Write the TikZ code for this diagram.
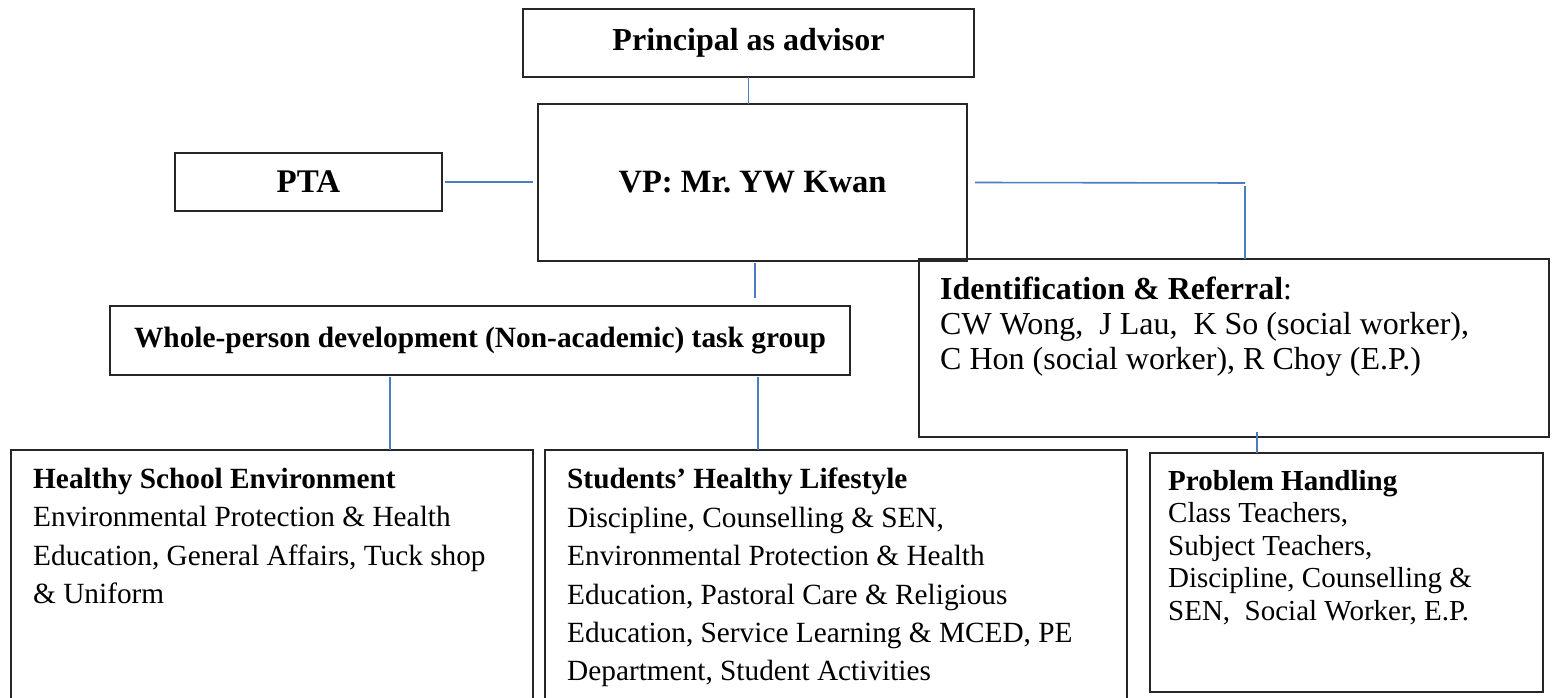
\documentclass[tikz,border=0pt]{standalone}
\usepackage{fontspec}
\setmainfont{Liberation Serif}
\definecolor{linkblue}{RGB}{74,126,193}
\begin{document}
\begin{tikzpicture}[x=1pt,y=-1pt,
  box/.style={draw=black!85, line width=1.5pt, inner sep=0pt, outer sep=0pt, anchor=north west},
  link/.style={draw=linkblue, line width=1.6pt},
  body/.style={inner sep=0pt, anchor=north west, align=left, font=\fontsize{29.3}{38.4}\selectfont},
  title/.style={font=\bfseries\fontsize{#1}{#1}\selectfont},
]
\useasboundingbox (0,0) rectangle (1553,698);
\clip (0,0) rectangle (1553,698);
% boxes
\node[box, minimum width=451, minimum height=68, title=32] (pr) at (523,9) {Principal as advisor};
\node[box, minimum width=429, minimum height=157, title=32.5] (vp) at (538,104) {VP: Mr.\ YW Kwan};
\node[box, minimum width=267, minimum height=58, title=33] (pta) at (175,153) {PTA};
\node[box, minimum width=740, minimum height=69, title=29.4] (wp) at (110,306) {Whole-person development (Non-academic) task group};
\node[box, minimum width=630, minimum height=178] (id) at (919,259) {};
\node[box, minimum width=522, minimum height=280] (hs) at (11,450) {};
\node[box, minimum width=582, minimum height=280] (sl) at (545,450) {};
\node[box, minimum width=393, minimum height=239] (ph) at (1150,453) {};
% box texts
\node[body, font=\fontsize{32}{35}\selectfont] (idtext) at (940,277)
  {\textbf{Identification \& Referral}:\\CW Wong,\ \ J Lau,\ \ K So (social worker),\\C Hon (social worker), R Choy (E.P.)};
\node[body] (hstext) at (33,468)
  {\textbf{Healthy School Environment}\\Environmental Protection \& Health\\Education, General Affairs, Tuck shop\\\& Uniform};
\node[body] (sltext) at (567,468)
  {\textbf{Students’ Healthy Lifestyle}\\Discipline, Counselling \& SEN,\\Environmental Protection \& Health\\Education, Pastoral Care \& Religious\\Education, Service Learning \& MCED, PE\\Department, Student Activities};
\node[body, font=\fontsize{29}{32.5}\selectfont] (phtext) at (1168,470)
  {\textbf{Problem Handling}\\Class Teachers,\\Subject Teachers,\\Discipline, Counselling \&\\SEN,\ \ Social Worker, E.P.};
% connector helpers
\coordinate (idturn) at (1245,183);
\coordinate (cvw) at (755,0);
\coordinate (chs) at (390,0);
\coordinate (csl) at (758,0);
\coordinate (cph) at (1257,0);
% connectors
\draw[link] (pr.south) -- (pr.south |- vp.north);
\draw[link] ([xshift=3pt]pta.east) -- ([xshift=-5pt]vp.west |- pta.east);
\draw[link] ([xshift=8pt]vp.east) -- (idturn);
\draw[link] ([yshift=-3pt]idturn) -- (idturn |- id.north);
\draw[link] ([yshift=-2pt]vp.south -| cvw) -- ([yshift=8pt]wp.north -| cvw);
\draw[link] ([yshift=-2pt]wp.south -| chs) -- (hs.north -| chs);
\draw[link] ([yshift=-2pt]wp.south -| csl) -- (sl.north -| csl);
\draw[link] ([yshift=5pt]id.south -| cph) -- (ph.north -| cph);
\end{tikzpicture}
\end{document}
